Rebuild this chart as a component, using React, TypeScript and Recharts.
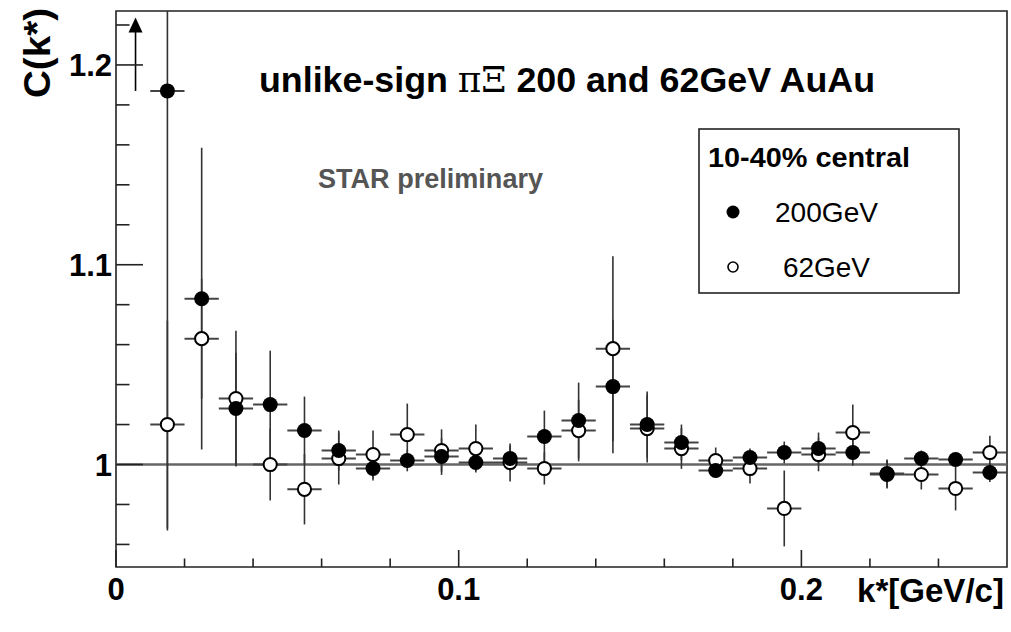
import {
  Customized,
  ErrorBar,
  Legend,
  ReferenceArea,
  ReferenceDot,
  ReferenceLine,
  Scatter,
  ScatterChart,
  XAxis,
  YAxis,
} from 'recharts';

// bin centres in k* [GeV/c]
const kStar = [
  0.015, 0.025, 0.035, 0.045, 0.055, 0.065, 0.075, 0.085, 0.095, 0.105, 0.115, 0.125, 0.135,
  0.145, 0.155, 0.165, 0.175, 0.185, 0.195, 0.205, 0.215, 0.225, 0.235, 0.245, 0.255,
];
const binHalfWidth = 0.005;

// 200 GeV (filled); first bin runs off the top, so only the visible part of its upper error is given
const c200 = [
  1.187, 1.083, 1.028, 1.03, 1.017, 1.007, 0.998, 1.002, 1.004, 1.001, 1.003, 1.014, 1.022,
  1.039, 1.02, 1.011, 0.997, 1.0035, 1.006, 1.008, 1.006, 0.9955, 1.003, 1.0025, 0.996,
];
const err200: (number | number[])[] = [
  [0.22, 0.04], 0.0755, 0.028, 0.027, 0.017, 0.01, 0.006, 0.0054, 0.0092, 0.0043, 0.0064, 0.013,
  0.019, 0.0334, 0.0165, 0.009, 0.0035, 0.0045, 0.0055, 0.008, 0.0066, 0.007, 0.004, 0.003, 0.0047,
];

// 62 GeV (open)
const c62 = [
  1.02, 1.063, 1.033, 1.0, 0.9876, 1.003, 1.005, 1.015, 1.007, 1.008, 1.001, 0.998, 1.017,
  1.058, 1.018, 1.008, 1.002, 0.998, 0.978, 1.005, 1.016, 0.995, 0.995, 0.988, 1.006,
];
const err62 = [
  0.052, 0.03, 0.034, 0.018, 0.0176, 0.013, 0.012, 0.0155, 0.0106, 0.012, 0.0095, 0.008, 0.0154,
  0.0463, 0.017, 0.0102, 0.0065, 0.0075, 0.019, 0.0084, 0.014, 0.007, 0.0075, 0.011, 0.0084,
];

const xTicks = [0, 0.02, 0.04, 0.06, 0.08, 0.1, 0.12, 0.14, 0.16, 0.18, 0.2, 0.22, 0.24];
const xMajor = [0, 0.1, 0.2];
const yTicks = [0.96, 0.98, 1, 1.02, 1.04, 1.06, 1.08, 1.1, 1.12, 1.14, 1.16, 1.18, 1.2, 1.22];
const yMajor = [1, 1.1, 1.2];

const xDomain = [0, 0.26];
const yDomain = [0.9487, 1.227];

// off-scale arrow for the first 200GeV bin
const arrowK = 0.0057;
const arrowFrom = 1.187;
const arrowTo = 1.2237;

const seriesNames = ['200GeV', '62GeV'];
const legendHeader = '10-40% central';

const FONT = '"Liberation Sans", Arial, Helvetica, sans-serif';
const AXIS = '#222';

const rows200 = kStar.map((k, i) => ({k, c: c200[i], ey: err200[i], ek: binHalfWidth}));
const rows62 = kStar.map((k, i) => ({k, c: c62[i], ey: err62[i], ek: binHalfWidth}));

const XTick = (props: any) => {
  const {x, y, payload} = props;
  const major = xMajor.includes(payload.value);
  return (
    <g>
      <line x1={x} x2={x} y1={y} y2={y - (major ? 17 : 8.5)} stroke={AXIS} strokeWidth={1.6} />
      {major && (
        <text x={x} y={y + 33} textAnchor="middle" fontFamily={FONT} fontWeight="bold" fontSize={31} fill="#000">
          {String(payload.value)}
        </text>
      )}
    </g>
  );
};

const YTick = (props: any) => {
  const {x, y, payload} = props;
  const major = yMajor.includes(payload.value);
  return (
    <g>
      <line x1={x} x2={x + (major ? 27 : 13.5)} y1={y} y2={y} stroke={AXIS} strokeWidth={1.6} />
      {major && (
        <text x={x - 4} y={y + 11.5} textAnchor="end" fontFamily={FONT} fontWeight="bold" fontSize={31} fill="#000">
          {String(payload.value)}
        </text>
      )}
    </g>
  );
};

const FilledDot = (p: any) => <circle cx={p.cx} cy={p.cy} r={7.5} fill="#000" />;
const OpenDot = (p: any) => <circle cx={p.cx} cy={p.cy} r={6.6} fill="#fff" stroke="#000" strokeWidth={2} />;
const NoDot = () => <g />;

const ArrowHead = (p: any) => (
  <path d={`M${p.cx},${p.cy} L${p.cx - 7},${p.cy + 15} L${p.cx + 7},${p.cy + 15} Z`} fill="#000" />
);

const LegendBox = () => (
  <svg width={262} height={166} style={{display: 'block'}}>
    <rect x={1} y={1} width={260} height={164} fill="#fff" stroke={AXIS} strokeWidth={1.6} />
    <text x={10} y={39} fontFamily={FONT} fontWeight="bold" fontSize={27} textLength={202} lengthAdjust="spacingAndGlyphs">
      {legendHeader}
    </text>
    <circle cx={35} cy={84} r={6.5} fill="#000" />
    <text x={77} y={94} fontFamily={FONT} fontSize={28} textLength={103} lengthAdjust="spacingAndGlyphs">
      {seriesNames[0]}
    </text>
    <circle cx={35} cy={139} r={5} fill="#fff" stroke="#000" strokeWidth={1.6} />
    <text x={85} y={149} fontFamily={FONT} fontSize={28} textLength={87} lengthAdjust="spacingAndGlyphs">
      {seriesNames[1]}
    </text>
  </svg>
);

const Annotations = () => (
  <g>
    <text x={259} y={92} fontFamily={FONT} fontWeight="bold" fontSize={35} textLength={616} lengthAdjust="spacingAndGlyphs" fill="#000">
      unlike-sign{' '}
      <tspan fontFamily='"DejaVu Serif", "Liberation Serif", serif' fontWeight="normal">
        πΞ
      </tspan>{' '}
      200 and 62GeV AuAu
    </text>
    <text x={318} y={188} fontFamily={FONT} fontWeight="bold" fontSize={27} textLength={225} lengthAdjust="spacingAndGlyphs" fill="#555">
      STAR preliminary
    </text>
    <text transform="rotate(-90)" x={-8} y={50} textAnchor="end" fontFamily={FONT} fontWeight="bold" fontSize={36} textLength={90} lengthAdjust="spacingAndGlyphs" fill="#000">
      C(k*)
    </text>
    <text x={1004} y={602} textAnchor="end" fontFamily={FONT} fontWeight="bold" fontSize={34} textLength={147} lengthAdjust="spacingAndGlyphs" fill="#000">
      k*[GeV/c]
    </text>
  </g>
);

export default function App() {
  return (
    <div style={{position: 'absolute', left: 0, top: 0, width: 1011, height: 632, background: '#fff'}}>
      <ScatterChart width={1011} height={632} margin={{top: 11, right: 4, bottom: 0, left: 0}}>
        <XAxis
          type="number"
          dataKey="k"
          domain={xDomain}
          allowDataOverflow
          ticks={xTicks}
          interval={0}
          tick={<XTick />}
          tickSize={0}
          tickMargin={0}
          tickLine={false}
          axisLine={false}
          height={65}
        />
        <YAxis
          type="number"
          dataKey="c"
          domain={yDomain}
          allowDataOverflow
          ticks={yTicks}
          interval={0}
          tick={<YTick />}
          tickSize={0}
          tickMargin={0}
          tickLine={false}
          axisLine={false}
          width={116}
        />
        <ReferenceArea
          x1={xDomain[0]}
          x2={xDomain[1]}
          y1={yDomain[0]}
          y2={yDomain[1]}
          fill="none"
          fillOpacity={0}
          stroke={AXIS}
          strokeWidth={1.6}
        />
        <ReferenceLine y={1} stroke="#666" strokeWidth={2.5} />
        <ReferenceLine
          segment={[
            {x: arrowK, y: arrowFrom},
            {x: arrowK, y: arrowTo - 0.006},
          ]}
          stroke="#000"
          strokeWidth={1.6}
        />
        <ReferenceDot x={arrowK} y={arrowTo} shape={ArrowHead} />

        <Scatter data={rows62} shape={NoDot} isAnimationActive={false} legendType="none">
          <ErrorBar dataKey="ey" direction="y" width={0} stroke="#333" strokeWidth={1.6} />
          <ErrorBar dataKey="ek" direction="x" width={0} stroke="#444" strokeWidth={2} />
        </Scatter>
        <Scatter data={rows200} shape={NoDot} isAnimationActive={false} legendType="none">
          <ErrorBar dataKey="ey" direction="y" width={0} stroke="#333" strokeWidth={1.6} />
          <ErrorBar dataKey="ek" direction="x" width={0} stroke="#444" strokeWidth={2} />
        </Scatter>
        <Scatter name={seriesNames[1]} data={rows62} shape={OpenDot} isAnimationActive={false} />
        <Scatter name={seriesNames[0]} data={rows200} shape={FilledDot} isAnimationActive={false} />

        <Legend
          layout="horizontal"
          verticalAlign="middle"
          align="center"
          content={() => <LegendBox />}
          wrapperStyle={{position: 'absolute', left: 698, top: 128, width: 262, height: 166}}
        />
        <Customized component={Annotations} />
      </ScatterChart>
    </div>
  );
}
